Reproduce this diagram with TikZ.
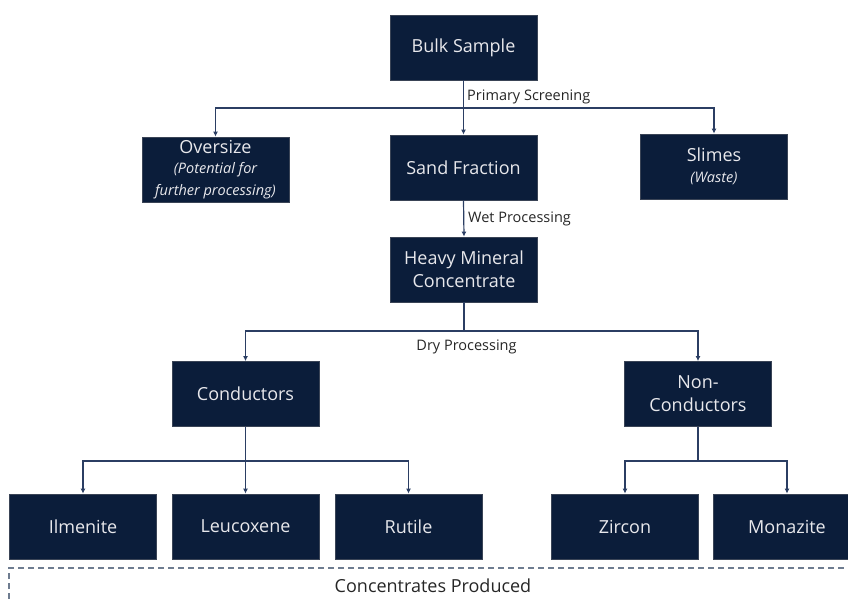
\documentclass[tikz,border=0pt]{standalone}
\usepackage{fontspec}
\setmainfont{Open Sans}
\usetikzlibrary{arrows.meta}
\definecolor{navy}{HTML}{0B1D3A}
\definecolor{lineblue}{HTML}{2B3E63}
\definecolor{dashgrey}{HTML}{6E7C90}
\definecolor{boxtext}{HTML}{E8E8EC}
\newcommand{\subline}[1]{{\fontsize{14.5}{16}\selectfont\itshape #1}}
\tikzset{
  box/.style={draw=navy!60!gray, line width=0.8pt, fill=navy, text=boxtext, minimum width=147pt, minimum height=65pt, inner sep=0pt, align=center, font=\fontsize{18}{23}\selectfont},
  conn/.style={draw=lineblue, line width=1.2pt, -{Latex[length=5pt,width=5pt]}},
  plain/.style={draw=lineblue, line width=1.2pt},
  lab/.style={font=\fontsize{14.5}{16}\selectfont, text=black!85, inner sep=0pt}
}
\begin{document}
\begin{tikzpicture}[x=1pt,y=-1pt]
\useasboundingbox (0,0) rectangle (848,599);
\clip (0,0) rectangle (848,599);
% boxes
\node[box] (bulk) at (463.5,47.5) {Bulk Sample};
\node[box] (over) at (215.5,169.5) {Oversize\\[-3pt]\subline{(Potential for}\\[-1pt]\subline{further processing)}};
\node[box] (sand) at (463.5,167.5) {Sand Fraction};
\node[box] (slimes) at (714,166.5) {Slimes\\[-2pt]\subline{(Waste)}};
\node[box] (hmc) at (464,269.5) {Heavy Mineral\\Concentrate};
\node[box] (cond) at (245.5,394) {Conductors};
\node[box] (ncond) at (698,394) {Non-\\Conductors};
\node[box] (ilm) at (83,526.5) {Ilmenite};
\node[box] (leu) at (245.5,526.5) {Leucoxene};
\node[box] (rut) at (408.5,526.5) {Rutile};
\node[box] (zir) at (625,526.5) {Zircon};
\node[box] (mon) at (787,526.5) {Monazite};
% junction coordinates
\coordinate (j1) at (463.5,108);
\coordinate (j2) at (464,331);
\coordinate (j3) at (245.5,461);
\coordinate (j4) at (698,461);
% connectors
\draw[plain] (bulk.south) -- (j1);
\draw[conn] (j1) -| (over.north);
\draw[conn] (j1) -- (sand.north);
\draw[conn] (j1) -| (slimes.north);
\draw[conn] (sand.south) -- (hmc.north);
\draw[plain] (hmc.south) -- (j2);
\draw[conn] (j2) -| (cond.north);
\draw[conn] (j2) -| (ncond.north);
\draw[plain] (cond.south) -- (j3);
\draw[conn] (j3) -| (ilm.north);
\draw[conn] (j3) -- (leu.north);
\draw[conn] (j3) -| (rut.north);
\draw[plain] (ncond.south) -- (j4);
\draw[conn] (j4) -| (zir.north);
\draw[conn] (j4) -| (mon.north);
% labels
\node[lab, anchor=west] (l1) at (467,97) {Primary Screening};
\node[lab, anchor=west] (l2) at (468,219) {Wet Processing};
\node[lab] (l3) at (466.5,347) {Dry Processing};
% concentrates frame
\coordinate (d0) at (9,599);
\coordinate (d1) at (9,568);
\coordinate (d2) at (848,568);
\draw[dashgrey, line width=1.5pt, dash pattern=on 6pt off 4pt] (d0) -- (d1) -- (d2);
\node[font=\fontsize{18}{20}\selectfont, text=black!85] (conc) at (433,586) {Concentrates Produced};
\end{tikzpicture}
\end{document}
